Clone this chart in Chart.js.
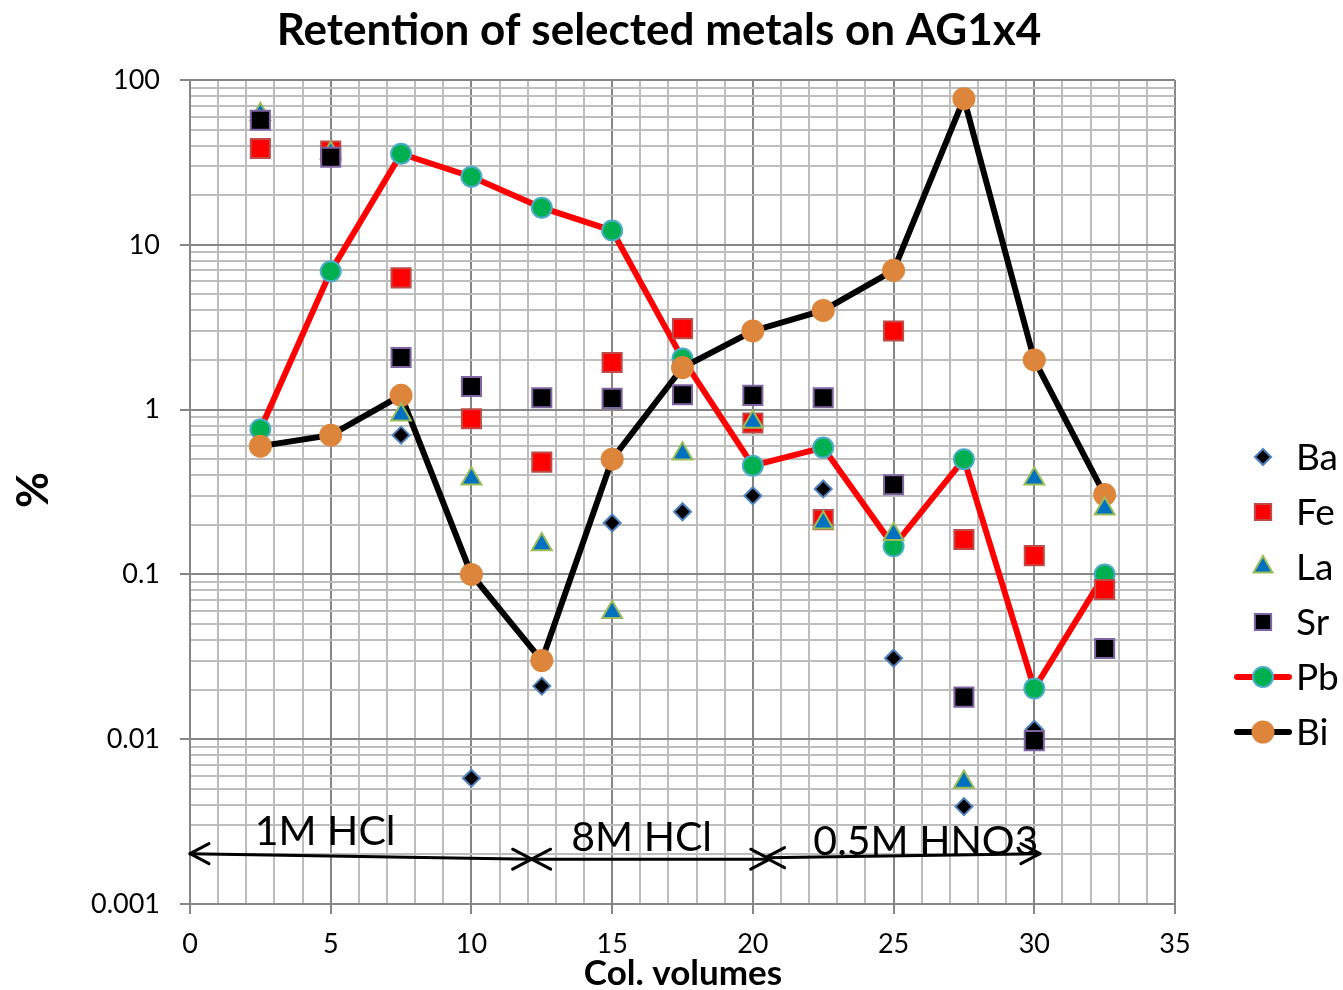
<!DOCTYPE html>
<html><head><meta charset="utf-8">
<script src="https://cdn.jsdelivr.net/npm/chart.js@4/dist/chart.umd.min.js"></script>
<style>html,body{margin:0;padding:0;background:#fff}canvas{display:block}</style>
</head><body>
<canvas id="c" width="1343" height="990"></canvas>
<script>
// ---- data ----
const colVolumes = [2.5, 5, 7.5, 10, 12.5, 15, 17.5, 20, 22.5, 25, 27.5, 30, 32.5];
const ba = [null, null, 0.70, 0.0058, 0.021, 0.205, 0.24, 0.30, 0.33, 0.031, 0.0039, 0.0115, null];
const fe = [38.4, 37, 6.3, 0.88, 0.48, 1.93, 3.1, 0.83, 0.215, 3.0, 0.163, 0.13, 0.081];
const la = [62, 36, 0.93, 0.38, 0.152, 0.059, 0.54, 0.84, 0.206, 0.175, 0.0055, 0.38, 0.25];
const sr = [57, 34, 2.07, 1.38, 1.18, 1.17, 1.23, 1.22, 1.18, 0.35, 0.018, 0.0098, 0.0355];
const pb = [0.76, 6.9, 35.7, 25.9, 16.8, 12.2, 2.04, 0.457, 0.588, 0.148, 0.50, 0.0203, 0.10];
const bi = [0.60, 0.70, 1.22, 0.10, 0.030, 0.50, 1.80, 3.0, 4.0, 7.0, 77, 2.0, 0.305];
const seriesNames = ['Ba', 'Fe', 'La', 'Sr', 'Pb', 'Bi'];

const xMajorTicks = [0, 5, 10, 15, 20, 25, 30, 35];
const yMajorTicks = [0.001, 0.01, 0.1, 1, 10, 100];
const yTickLabels = ['0.001', '0.01', '0.1', '1', '10', '100'];

const regionLabels = ['1M HCl', '8M HCl', '0.5M HNO3'];
const regionArrowFrom = [0, 12.14, 20.45];
const regionArrowTo = [12.14, 20.6, 30.2];
const regionArrowYFrom = [0.00202, 0.00187, 0.00191];
const regionArrowYTo = [0.00187, 0.00187, 0.00202];
const regionLabelX = [2.3, 13.55, 22.15];
const regionLabelY = [0.00229, 0.00211, 0.00199];

const chartTitle = 'Retention of selected metals on AG1x4';
const xTitle = 'Col. volumes';
const yTitle = '%';

// ---- helpers ----
const pts = arr => colVolumes.map((x, i) => ({x, y: arr[i]}));
const xAllTicks = [];
for (let v = xMajorTicks[0]; v <= xMajorTicks[xMajorTicks.length - 1]; v++) xAllTicks.push(v);
const yAllTicks = [];
yMajorTicks.forEach((m, i) => {
  if (i === yMajorTicks.length - 1) { yAllTicks.push(m); return; }
  for (let k = 1; k <= 9; k++) yAllTicks.push(+(m * k).toPrecision(3));
});
const isYMajor = v => yMajorTicks.some(m => Math.abs(v / m - 1) < 1e-6);
const MAJOR = '#868686', MINOR = '#bdbdbd';
const FONT = 'Lato';

const overlay = {
  id: 'overlay',
  afterDatasetsDraw(chart) {
    const ctx = chart.ctx, xs = chart.scales.x, ys = chart.scales.y;
    ctx.save();
    ctx.strokeStyle = '#000'; ctx.lineWidth = 3; ctx.lineCap = 'round'; ctx.lineJoin = 'round';
    const head = (x, y, dir) => {
      ctx.beginPath();
      ctx.moveTo(x - dir * 19, y - 10); ctx.lineTo(x, y); ctx.lineTo(x - dir * 19, y + 10);
      ctx.stroke();
    };
    for (let i = 0; i < regionLabels.length; i++) {
      const x1 = xs.getPixelForValue(regionArrowFrom[i]), x2 = xs.getPixelForValue(regionArrowTo[i]);
      const y1 = ys.getPixelForValue(regionArrowYFrom[i]), y2 = ys.getPixelForValue(regionArrowYTo[i]);
      ctx.beginPath(); ctx.moveTo(x1, y1); ctx.lineTo(x2, y2); ctx.stroke();
      head(x1, y1, -1); head(x2, y2, 1);
    }
    ctx.fillStyle = '#000'; ctx.font = `41px ${FONT}`; ctx.textAlign = 'left'; ctx.textBaseline = 'alphabetic';
    for (let i = 0; i < regionLabels.length; i++) {
      ctx.fillText(regionLabels[i], xs.getPixelForValue(regionLabelX[i]), ys.getPixelForValue(regionLabelY[i]));
    }
    ctx.restore();
  },
  afterDraw(chart) {
    const ctx = chart.ctx;
    ctx.save();
    ctx.fillStyle = '#000';
    // title
    ctx.font = `bold 44px ${FONT}`; ctx.textAlign = 'center'; ctx.textBaseline = 'alphabetic';
    ctx.fillText(chartTitle, 659, 45);
    // x title
    ctx.font = `bold 35px ${FONT}`;
    ctx.fillText(xTitle, 683, 985);
    // y title
    ctx.save(); ctx.translate(34, 490); ctx.rotate(-Math.PI / 2);
    ctx.font = `bold 44px ${FONT}`; ctx.textBaseline = 'middle';
    ctx.fillText(yTitle, 0, 0);
    ctx.restore();
    // legend
    const lx = 1263, tx = 1296, ly0 = 457, step = 55;
    chart.data.datasets.forEach((ds, i) => {
      const y = ly0 + step * i;
      if (ds.showLine) {
        ctx.strokeStyle = ds.borderColor; ctx.lineWidth = ds.borderWidth; ctx.lineCap = 'round';
        ctx.beginPath(); ctx.moveTo(1237, y); ctx.lineTo(1289, y); ctx.stroke();
      }
      ctx.fillStyle = ds.pointBackgroundColor; ctx.strokeStyle = ds.pointBorderColor;
      ctx.lineWidth = ds.pointBorderWidth;
      const r = ds.pointStyle === 'rectRot' ? ds.pointRadius * 0.95 : ds.pointStyle === 'rect' ? ds.pointRadius * 0.85 : ds.pointStyle === 'triangle' ? ds.pointRadius * 0.95 : ds.pointRadius;
      Chart.helpers.drawPoint(ctx, {pointStyle: ds.pointStyle, radius: r, rotation: 0, borderWidth: ds.pointBorderWidth}, lx, y);
      ctx.fillStyle = '#000'; ctx.font = `37px ${FONT}`; ctx.textAlign = 'left'; ctx.textBaseline = 'middle';
      ctx.fillText(seriesNames[i], tx, y + 1);
    });
    ctx.restore();
  }
};

const mk = (name, arr, style, radius, bg, border, order, extra) => Object.assign({
  label: name, data: pts(arr), pointStyle: style, pointRadius: radius, pointHoverRadius: radius,
  pointBackgroundColor: bg, pointBorderColor: border, pointBorderWidth: 2, pointHoverBorderWidth: 2,
  showLine: false, order
}, extra || {});

new Chart(document.getElementById('c'), {
  type: 'scatter',
  data: {
    datasets: [
      mk('Ba', ba, 'rectRot', 8.5, '#000000', '#4f81bd', 3),
      mk('Fe', fe, 'rect', 13.5, '#ff0000', '#be4b48', 2),
      mk('La', la, 'triangle', 11.5, '#0070c0', '#9bbb59', 1),
      mk('Sr', sr, 'rect', 13.5, '#000000', '#8064a2', 0),
      mk('Pb', pb, 'circle', 10, '#00b050', '#4bacc6', 5, {showLine: true, borderColor: '#ff0000', borderWidth: 6}),
      mk('Bi', bi, 'circle', 10.5, '#dd853a', '#dd853a', 4, {showLine: true, borderColor: '#000000', borderWidth: 6})
    ]
  },
  options: {
    responsive: false, animation: false, devicePixelRatio: 1,
    layout: {padding: {top: 80, right: 168, left: 0, bottom: 0}},
    plugins: {legend: {display: false}, title: {display: false}, tooltip: {enabled: false}},
    events: [],
    scales: {
      x: {
        type: 'linear', min: 0, max: 35,
        afterBuildTicks: s => { s.ticks = xAllTicks.map(v => ({value: v})); },
        afterFit: s => { s.height = 86; },
        ticks: {
          autoSkip: false, maxRotation: 0, minRotation: 0, padding: 14, color: '#000',
          font: {family: FONT, size: 27},
          callback: v => xMajorTicks.includes(v) ? String(v) : ''
        },
        grid: {
          color: c => xMajorTicks.includes(c.tick.value) ? MAJOR : MINOR,
          lineWidth: 2, tickLength: 10,
          tickColor: c => xMajorTicks.includes(c.tick.value) ? MAJOR : 'rgba(0,0,0,0)',
          tickWidth: 2
        },
        border: {color: MAJOR, width: 2}
      },
      y: {
        type: 'logarithmic', min: 0.001, max: 100,
        afterBuildTicks: s => { s.ticks = yAllTicks.map(v => ({value: v})); },
        afterFit: s => { s.width = 190; },
        ticks: {
          autoSkip: false, padding: 20, color: '#000',
          font: {family: FONT, size: 27},
          callback: v => { const i = yMajorTicks.findIndex(m => Math.abs(v / m - 1) < 1e-6); return i >= 0 ? yTickLabels[i] : ''; }
        },
        grid: {
          color: c => isYMajor(c.tick.value) ? MAJOR : MINOR,
          lineWidth: 2, tickLength: 10,
          tickColor: c => isYMajor(c.tick.value) ? MAJOR : 'rgba(0,0,0,0)',
          tickWidth: 2
        },
        border: {color: MAJOR, width: 2}
      }
    }
  },
  plugins: [overlay]
});
</script>
</body></html>
